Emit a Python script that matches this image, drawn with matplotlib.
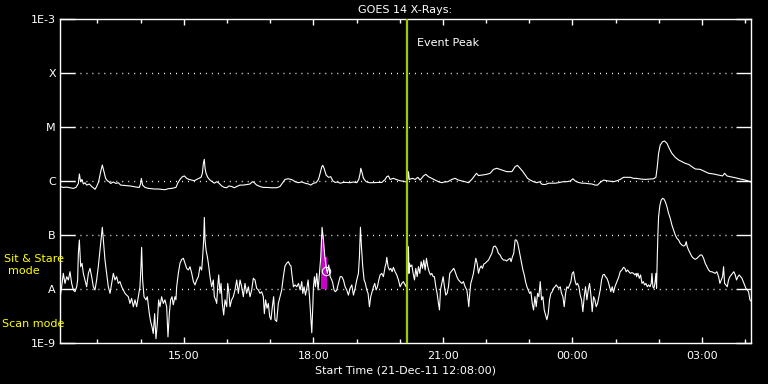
import numpy as np
import pandas as pd
import matplotlib
matplotlib.use("Agg")
import matplotlib.pyplot as plt
import matplotlib.dates as mdates
from matplotlib.ticker import FixedLocator, FixedFormatter, NullLocator

# ---------------- data ----------------
start_time = "2011-12-21 12:08:00"
span_minutes = 960

# long channel (upper curve) : minutes after start, flux in C-class units (1e-6 W/m^2)
long_t = [0, 4.6, 9.3, 13.9, 18.5, 22.2, 25.5, 26.9, 28.7, 30.6, 32.4, 34.7, 37.0, 40.7, 44.0, 46.3, 48.6, 50.9,
          53.7, 56.5, 58.8, 61.1, 63.4, 65.7, 68.1, 70.4, 74.1, 77.8, 81.0, 84.3, 88.0, 92.6, 97.2, 101.9, 106.5,
          110.2, 112.0, 113.0, 114.8, 118.1, 122.7, 127.3, 132.0, 136.6, 141.2, 145.8, 150.5, 155.1, 161.1,
          163.5, 166.7, 170.0, 172.8, 176.0, 179.2, 183.0, 186.7, 189.9, 193.1, 195.9, 197.8, 199.2, 200.5, 201.5,
          202.9, 205.2, 208.4, 211.7, 214.4, 217.7, 220.9, 224.6, 228.3, 231.6, 234.8, 238.5, 242.2, 245.5, 250.1,
          254.7, 259.3, 264.0, 267.2, 270.0, 273.2, 277.9, 282.5, 287.1, 294.1, 301.0, 305.6, 308.9, 312.6, 317.2,
          320.9, 323.4, 326.6, 331.3, 335.9, 340.5, 345.2, 348.4, 352.1, 355.8, 359.1, 361.4, 363.7, 365.1, 366.9,
          369.7, 373.0, 376.2, 379.0, 382.2, 385.5, 389.2, 393.8, 398.4, 403.1, 407.7, 412.3, 415.1, 417.0, 417.9,
          419.3, 421.6, 425.3, 429.9, 435.5, 441.0, 447.0, 451.7, 454.0, 456.3, 458.6, 463.2, 466.9, 472.5, 477.1,
          480.8, 483.0, 484.1, 485.2, 489.7, 493.4, 497.1, 500.3, 505.0, 508.2, 511.9, 516.5, 521.2, 525.8, 530.4,
          534.1, 538.8, 544.3, 548.9, 553.6, 558.2, 562.8, 567.5, 572.1, 576.7, 578.6, 581.4, 586.0, 592.9, 597.6,
          602.2, 606.8, 613.8, 620.7, 627.7, 632.3, 635.5, 639.2, 643.1, 646.3, 649.6, 653.3, 657.9, 662.6, 666.3,
          669.5, 674.1, 678.8, 683.4, 688.0, 692.6, 698.7, 704.2, 708.9, 712.6, 715.8, 720.4, 725.1, 729.7, 734.3,
          739.0, 743.6, 746.8, 750.5, 755.2, 759.8, 764.4, 769.0, 773.7, 778.3, 782.9, 787.6, 792.2, 796.8, 800.5,
          806.1, 813.1, 820.0, 824.7, 827.9, 829.8, 831.6, 833.9, 837.2, 839.9, 843.2, 846.4, 850.1, 854.8, 859.4,
          864.0, 868.7, 873.3, 877.9, 882.5, 889.5, 896.4, 901.1, 908.0, 915.0, 920.5, 923.3, 926.6, 931.2, 938.1,
          945.0, 952.0, 958.9, 960.0]
long_c = [0.79, 0.76, 0.77, 0.75, 0.73, 0.76, 0.90, 1.35, 0.97, 1.07, 0.88, 0.93, 0.84, 0.88, 0.79, 0.75, 0.70, 0.79,
          0.97, 1.49, 1.98, 1.49, 1.12, 1.01, 0.97, 0.90, 0.96, 0.90, 0.93, 0.84, 0.83, 0.82, 0.81, 0.79, 0.77,
          0.76, 0.90, 1.12, 0.84, 0.76, 0.73, 0.72, 0.71, 0.71, 0.70, 0.69, 0.72, 0.73, 0.76,
          0.91, 1.07, 1.20, 1.24, 1.12, 1.07, 1.04, 1.01, 1.07, 1.12, 1.17, 1.39, 2.13, 2.52, 1.72,
          1.39, 1.17, 1.04, 0.97, 0.91, 0.97, 0.91, 0.81, 0.76, 0.75, 0.81, 0.79, 0.75, 0.79, 0.84,
          0.84, 0.86, 0.88, 0.97, 0.93, 0.84, 0.79, 0.76, 0.76, 0.75, 0.75, 0.79, 0.91, 1.07, 1.10,
          1.07, 1.04, 0.97, 0.93, 0.96, 0.91, 0.88, 0.84, 0.91, 0.93, 1.07, 1.39, 1.84, 1.95, 1.72,
          1.29, 1.17, 1.20, 1.01, 0.94, 0.96, 0.91, 0.94, 0.94, 0.93, 0.96, 0.93, 1.07, 1.39, 1.72,
          1.49, 1.12, 0.97, 0.93, 0.93, 0.94, 0.94, 1.07, 1.20, 1.24, 1.07, 1.12, 1.07, 1.01, 0.99,
          0.96, 1.05, 1.49, 1.07, 1.12, 1.07, 1.17, 1.04, 1.24, 1.33, 1.20, 1.12, 1.04, 0.97, 0.93,
          0.96, 0.97, 1.07, 1.12, 1.04, 1.00, 0.97, 0.93, 1.07, 1.29, 1.39, 1.26, 1.29, 1.33, 1.39,
          1.64, 1.72, 1.60, 1.49, 1.49, 1.84, 1.95, 1.72, 1.49, 1.29, 1.12, 1.04, 0.97, 0.93, 0.97,
          0.87, 0.86, 0.91, 0.91, 0.91, 0.93, 0.97, 0.97, 1.00, 1.10, 1.00, 0.94, 0.91, 0.91, 0.89,
          0.88, 0.84, 0.84, 0.94, 1.04, 1.01, 0.99, 0.97, 1.01, 1.07, 1.17, 1.17, 1.17, 1.12, 1.12,
          1.09, 1.07, 1.09, 1.10, 1.17, 1.84, 3.25, 4.64, 5.35, 5.50, 4.99, 4.03, 3.25, 2.74, 2.45,
          2.28, 2.12, 2.03, 1.84, 1.67, 1.64, 1.49, 1.39, 1.35, 1.29, 1.24, 1.39, 1.24, 1.20, 1.15,
          1.09, 1.04, 0.97, 0.95]

# short channel (lower curve) : minutes after start, flux in A-class units (1e-8 W/m^2)
short_t = [0, 2.3, 4.6, 6.9, 9.3, 11.6, 13.9, 16.2, 18.5, 20.8, 23.2, 24.5, 25.5, 26.9, 28.7, 30.6, 32.4, 34.7,
           37.0, 39.4, 41.7, 44.0, 46.3, 48.6, 50.9, 53.2, 55.6, 57.9, 58.8, 60.2, 62.5, 64.8, 67.1, 69.5, 71.8,
           74.1, 76.4, 78.7, 81.0, 83.3, 85.7, 88.0, 90.3, 92.6, 94.9, 97.2, 99.5, 101.9, 104.2, 106.5, 108.8,
           111.1, 112.5, 113.4, 114.8, 116.7, 119.5, 121.3, 124.1, 125.9, 127.8, 129.6, 131.5, 133.3, 135.2,
           137.0, 138.9, 141.2, 143.5, 145.8, 148.2, 150.0, 151.9, 153.7, 155.6, 157.4, 159.7, 161.1,
           162.1, 164.4, 166.7, 169.1, 171.4, 173.7, 176.0, 178.3, 180.6, 183.0, 185.3, 187.6, 189.9, 192.2,
           194.5, 196.8, 198.2, 199.6, 200.5, 201.5, 202.9, 204.7, 206.1, 208.4, 210.7, 213.0, 214.4, 216.3,
           217.7, 219.1, 220.5, 222.3, 223.7, 225.5, 227.4, 229.3, 231.6, 233.0, 234.8, 236.2, 238.5, 240.8,
           243.1, 245.5, 247.8, 250.1, 252.4, 254.7, 257.0, 259.3, 261.7, 264.0, 266.3, 268.6, 270.9, 273.2,
           275.5, 277.9, 280.2, 282.5, 283.9, 285.7, 287.6, 289.4, 291.3, 293.1, 295.0, 296.8, 298.7, 301.0,
           303.3, 305.6, 308.0, 310.3, 312.6, 314.9, 317.2, 319.5, 320.9,
           322.0, 324.3, 326.6, 329.0, 331.3, 333.6, 335.9, 337.3, 339.1, 341.0, 342.9, 344.7, 346.6, 348.4,
           349.8, 351.2, 352.1, 353.5, 354.9, 356.7, 358.6, 360.4, 362.3, 364.1, 366.0, 367.9, 369.7, 371.6,
           373.4, 375.3, 377.6, 379.0, 380.8, 382.7, 384.5, 386.8, 389.2, 391.5, 393.8, 396.1, 398.4, 400.7,
           403.0, 405.4, 407.7, 410.0, 412.3, 414.6, 416.0, 417.4, 418.8, 420.6, 422.5, 424.3, 426.2, 428.0,
           429.9, 431.7, 433.6, 435.5, 437.3, 439.2, 441.0, 442.9, 444.7, 447.0, 449.3, 451.7, 453.0, 454.0,
           455.8, 457.7, 459.5, 461.4, 463.2, 465.5, 467.9, 470.2, 472.5, 474.8, 477.1, 479.4, 480.8,
           483.0, 484.1, 484.8, 485.5, 486.9, 488.8, 490.6, 492.5, 494.3, 496.2, 498.0, 499.9, 501.7, 503.6,
           505.4, 507.3, 509.1, 511.0, 512.8, 514.7, 516.5, 518.4, 520.2, 522.1, 523.9, 525.8, 527.2, 528.6,
           530.4, 532.3, 534.1, 536.0, 537.8, 539.7, 541.5, 543.4, 545.2, 547.1, 549.0, 551.3, 553.6, 555.9,
           558.2, 560.5, 562.8, 565.2, 566.5, 567.9, 569.3, 570.7, 572.1, 574.4, 575.8, 577.7, 579.5, 581.4,
           583.2, 585.1, 586.9, 588.8, 590.6, 592.9, 595.3, 597.6, 599.9, 602.2, 604.5, 606.8, 609.1, 611.5,
           613.8, 616.1, 618.4, 620.7, 623.0, 625.3, 626.7, 628.6, 630.4, 632.3, 634.1, 636.0, 637.8, 639.7,
           641.3, 643.1, 645.0, 646.8, 648.7, 650.5, 652.4, 654.2, 656.1, 657.9, 659.8, 661.6, 663.5, 665.3,
           667.2, 669.0, 670.9, 672.7, 674.6, 676.4, 678.3, 680.1, 682.0, 683.8, 685.7, 687.6, 689.4, 691.3,
           693.1, 695.0, 696.8, 698.7, 700.5, 702.4, 704.2, 706.1, 707.9, 709.8, 711.6, 713.5, 715.3, 717.2,
           719.0, 720.9, 722.7, 724.6, 726.4, 728.3, 730.1, 732.0, 733.9, 735.7, 737.6, 739.4, 741.3, 743.1,
           745.0, 746.8, 748.7, 750.5, 752.4, 754.2, 756.1, 757.9, 759.8, 761.6, 763.5, 765.3, 767.2, 769.0,
           770.9, 772.7, 774.6, 776.4, 778.3, 780.6, 782.9, 784.8, 786.6, 788.5, 790.3, 792.2, 794.5, 796.8,
           798.7, 800.5,
           801.1, 802.9, 804.8, 806.6, 808.5, 810.3, 812.2, 814.0, 815.9, 817.7, 819.6, 821.4, 822.4, 823.7,
           825.1, 826.5, 827.9, 828.8, 829.8, 830.7, 831.6, 833.5, 835.3, 837.2, 839.0, 840.9, 843.2, 845.5,
           847.8, 850.1, 852.4, 854.8, 857.1, 859.4, 861.7, 864.0, 866.3, 868.7, 870.0, 871.4, 873.3, 875.6,
           877.9, 880.2, 882.5, 884.9, 887.2, 889.5, 891.8, 894.1, 896.4, 898.7, 901.1, 903.4, 905.7, 908.0,
           910.3, 912.6, 915.0, 916.8, 918.7, 920.5, 921.9, 923.3, 925.1, 927.0, 928.8, 930.7, 932.5, 934.4,
           936.2, 938.1, 939.9, 941.8, 943.6, 945.5, 947.4, 949.2, 951.1, 952.9, 954.8, 956.6, 958.5, 960.0]
short_a = [0.67, 1.10, 1.95, 1.27, 1.69, 1.47, 2.09, 1.27, 0.96, 0.89, 1.10, 1.47, 4.58, 8.08, 2.59, 2.99, 1.95, 1.47,
           1.10, 1.95, 2.41, 1.69, 1.10, 0.96, 1.47, 2.59, 5.27, 10.7, 13.9, 8.08, 3.44, 1.95, 1.10, 0.83, 1.27,
           1.95, 1.47, 1.69, 1.27, 1.37, 1.10, 0.96, 0.83, 0.77, 0.72, 0.54, 0.67, 0.47, 0.63, 0.47, 0.72,
           1.10, 2.59, 5.91, 1.47, 0.72, 0.63, 0.72, 0.35, 0.25, 0.20, 0.15, 0.35, 0.12, 0.23,
           0.63, 0.47, 0.72, 0.54, 0.63, 0.47, 0.13, 0.35, 0.63, 0.72, 0.51, 0.72, 0.63,
           1.10, 1.95, 2.99, 3.54, 3.70, 2.99, 2.41, 2.25, 2.59, 1.95, 1.37, 1.19, 1.47, 1.69,
           2.59, 2.25, 3.97, 8.08, 21.2, 8.08, 5.27, 3.97, 2.99, 1.69, 1.10, 1.47, 0.72, 0.63,
           0.54, 1.10, 1.82, 0.83, 1.27, 0.54, 0.33, 0.63, 0.47, 1.27, 0.83, 0.47, 0.63, 0.72,
           0.96, 1.47, 0.83, 1.47, 1.10, 0.72, 1.27, 0.83, 1.10, 0.72, 0.96, 1.58, 1.47, 1.03,
           0.96, 0.83, 0.89, 0.72, 0.35, 0.63, 0.44, 0.54, 0.31, 0.27, 0.47, 0.72, 0.27, 0.25,
           0.54, 0.72, 0.96, 1.69, 2.67, 2.99, 3.21, 2.78, 2.67,
           1.95, 1.10, 1.19, 1.10, 1.27, 0.96, 1.37, 0.83, 1.10, 0.77, 1.03, 1.47, 0.72, 0.31,
           0.155, 0.47, 1.10, 1.69, 1.10, 1.95, 0.96, 1.95, 3.97, 13.9, 8.08, 3.97, 2.59, 1.95,
           2.78, 1.69, 1.47, 1.27, 0.96, 0.89, 0.96, 1.27, 1.69, 1.69, 1.47, 1.10, 0.96, 0.77,
           1.03, 1.19, 0.77, 1.03, 1.47, 1.95, 3.97, 13.9, 6.08, 2.59, 1.47, 1.27, 0.96, 0.83,
           0.47, 0.72, 0.89, 1.10, 1.27, 0.96, 1.10, 1.47, 1.82, 1.95, 1.69, 2.59, 2.99, 3.86,
           2.59, 2.25, 2.41, 2.09, 2.52, 2.09, 1.82, 1.47, 1.10, 1.27, 1.37, 1.19, 1.10,
           1.95, 6.08, 1.95, 2.99, 2.59, 2.78, 1.95, 1.47, 2.41, 1.69, 2.59, 1.95, 3.21, 2.41,
           3.44, 2.25, 3.70, 2.59, 2.09, 1.82, 1.95, 1.69, 1.69, 1.10, 0.83, 0.54, 0.41, 0.96,
           1.27, 1.69, 1.10, 0.77, 0.83, 1.10, 1.95, 2.09, 2.25, 2.41, 2.09, 1.69, 1.47, 1.37,
           1.27, 1.37, 1.10, 0.96, 0.72, 0.47, 0.83, 1.27, 1.47, 1.95, 2.59, 3.70, 2.99, 1.95,
           2.41, 2.67, 2.41, 2.90, 2.99, 3.21, 3.44, 3.97, 4.58, 6.08, 6.25, 5.66, 4.58, 4.26,
           3.70, 3.44, 3.44, 3.30, 3.54, 3.70, 3.21, 3.97, 4.58, 8.08, 8.08, 7.01, 5.27, 3.97,
           2.99, 2.25, 1.82, 1.37, 1.10, 0.96, 0.83, 0.89, 0.54, 0.41, 0.72, 0.47, 0.83, 0.72,
           1.37, 0.63, 0.72, 0.41, 0.33, 0.27, 0.35, 0.63, 0.83, 0.89, 1.03, 1.10, 1.19, 1.10,
           1.03, 1.10, 0.83, 0.72, 0.47, 0.83, 1.10, 1.03, 1.19, 1.37, 1.95, 2.09, 1.47, 1.19,
           1.27, 1.10, 0.77, 0.63, 0.38, 0.72, 1.10, 0.63, 0.96, 1.27, 0.77, 0.38, 0.72, 0.63,
           0.47, 0.54, 0.72, 0.96, 1.47, 1.82, 1.87, 1.69, 1.58, 1.37, 1.10, 0.89, 1.10, 0.86,
           1.10, 1.27, 1.47, 1.69, 2.09, 2.25, 2.52, 2.41, 2.09, 2.25, 2.09, 1.95, 2.01, 1.95,
           1.82, 1.95,
           1.69, 1.95, 1.58, 1.82, 1.27, 1.37, 1.19, 1.27, 1.10, 1.19, 1.10, 1.27, 1.95, 1.10,
           1.03, 1.27, 1.95, 1.03, 3.97, 10.7, 21.9, 35.9, 44.5, 47.7, 46.4, 41.4, 33.5, 25.2,
           20.4, 15.3, 12.4, 10.0, 8.67, 8.08, 7.01, 6.53, 6.25, 6.53, 7.53, 6.08, 5.27, 4.58,
           3.97, 3.70, 3.54, 3.70, 3.97, 4.26, 4.26, 3.70, 2.99, 2.59, 2.25, 2.09, 2.09, 2.01,
           1.95, 2.09, 1.69, 1.27, 1.47, 1.69, 2.59, 1.27, 1.19, 1.10, 1.47, 1.69, 1.82, 1.95,
           2.09, 1.82, 1.47, 1.69, 1.82, 1.69, 1.58, 1.37, 1.19, 1.03, 0.96, 0.89, 0.63, 0.60]

# highlighted interval (magenta steps) : minutes after start, top flux in A units
mark_t = [362.3, 366.5, 370.6]
mark_a = [10.0, 3.96, 3.96]
marker_t = 369.7
marker_a = 2.15

event_peak_min = 482.0

ytick_vals = [1e-9, 1e-8, 1e-7, 1e-6, 1e-5, 1e-4, 1e-3]
ytick_labels = ["1E-9", "A", "B", "C", "M", "X", "1E-3"]
grid_vals = [1e-8, 1e-7, 1e-6, 1e-5, 1e-4]

# ---------------- plot ----------------
t0 = pd.Timestamp(start_time)
def to_time(m):
    return t0 + pd.to_timedelta(np.asarray(m, dtype=float), unit="m")

W, H = 768, 384
fig = plt.figure(figsize=(W / 100, H / 100), dpi=100, facecolor="black")
ax = fig.add_axes([60 / W, 41 / H, 691 / W, 324 / H], facecolor="black")
ax.set_yscale("log")

# grid (dotted)
for g in grid_vals:
    ax.axhline(g, xmin=14 / 691, xmax=1 - 15 / 691, color="white", lw=1.0,
               linestyle=(0, (0.7, 3.6)))

# magenta highlight
ax.fill_between(to_time(mark_t), 1e-8, np.array(mark_a) * 1e-8, step="post",
                color="#cc00cc", lw=0, zorder=2)

ax.plot(to_time(long_t), np.array(long_c) * 1e-6, color="white", lw=0.8, zorder=3)
ax.plot(to_time(short_t), np.array(short_a) * 1e-8, color="white", lw=0.8, zorder=3)
ax.plot(to_time([marker_t]), [marker_a * 1e-8], marker="o", ms=6, mfc="none",
        mec="white", mew=0.8, ls="none", zorder=4)

# event peak line
ev = to_time([event_peak_min])[0]
ax.axvline(ev, color="#9fcb00", lw=1.6, zorder=5)
ax.text(to_time([event_peak_min + 14])[0], 0.926, "Event Peak", transform=ax.get_xaxis_transform(),
        color="white", fontsize=8, va="center", ha="left")

ax.set_xlim(to_time([0])[0], to_time([span_minutes])[0])
ax.set_ylim(1e-9, 1e-3)

ax.yaxis.set_major_locator(FixedLocator(ytick_vals))
ax.yaxis.set_major_formatter(FixedFormatter(ytick_labels))
ax.yaxis.set_minor_locator(NullLocator())
ax.tick_params(axis="y", which="major", direction="in", length=10.5, width=1.0,
               colors="white", labelsize=8, pad=3, left=True, right=True)

ax.xaxis.set_major_locator(mdates.HourLocator(byhour=[0, 3, 6, 9, 12, 15, 18, 21]))
ax.xaxis.set_minor_locator(mdates.HourLocator())
ax.xaxis.set_major_formatter(mdates.DateFormatter("%H:%M"))
ax.tick_params(axis="x", which="major", direction="in", length=4.5, width=1.0,
               colors="white", labelsize=8, pad=6, top=True, bottom=True)
ax.tick_params(axis="x", which="minor", direction="in", length=3.0, width=1.0,
               colors="white", top=True, bottom=True)

for s in ax.spines.values():
    s.set_color("white")
    s.set_linewidth(1.0)

ax.set_title("GOES 14 X-Rays:", color="white", fontsize=8, pad=4)
ax.set_xlabel("Start Time (21-Dec-11 12:08:00)", color="white", fontsize=8, labelpad=3)

fig.text(34 / W, 1 - 259 / H, "Sit & Stare", color="#ffff00", fontsize=8, ha="center", va="center")
fig.text(24 / W, 1 - 271 / H, "mode", color="#ffff00", fontsize=8, ha="center", va="center")
fig.text(2 / W, 1 - 324 / H, "Scan mode", color="#ffff00", fontsize=8, ha="left", va="center")

fig.savefig("out.png", dpi=100, facecolor="black")
